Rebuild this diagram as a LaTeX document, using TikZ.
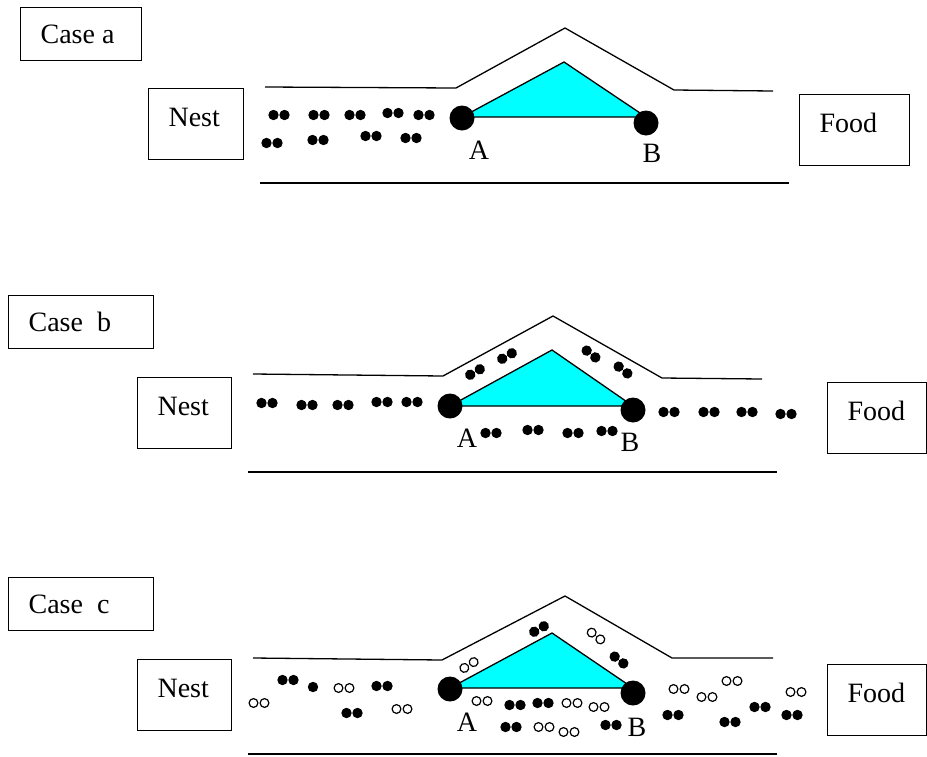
\documentclass[tikz,border=0pt]{standalone}
\usepackage{fontspec}
\setmainfont{Liberation Serif}
\definecolor{tunnelCyan}{RGB}{0,255,255}

\tikzset{
  casebox/.style={draw,line width=1.2pt,anchor=north west,inner xsep=20pt,inner ysep=17pt,text height=19pt,text depth=0pt,execute at begin node={\spaceskip=0pt\xspaceskip=0pt}},
  placebox/.style={draw,line width=1.2pt,anchor=north west,inner xsep=20pt,inner ysep=19pt,text height=19pt,text depth=14pt},
  junction/.style={circle,fill=black,minimum size=25pt,inner sep=0pt},
  letter/.style={inner sep=0pt},
  wall/.style={line width=1.3pt},
  blackPair/.pic={\fill (-5.5,0) circle (5.2pt) (5.5,0) circle (5.2pt);},
  whitePair/.pic={\draw[line width=1.2pt] (-5.5,0) circle (4.4pt) (5.5,0) circle (4.4pt);}
}

\begin{document}
\begin{tikzpicture}[x=1pt,y=-1pt,font=\fontsize{28}{34}\selectfont]
        \useasboundingbox (0,0) rectangle (927,756);

        % ================== Case a ==================
        \node[casebox,text width=81pt] (caseA) at (20,7) {Case a};
        \node[placebox,text width=55pt] (nestA) at (148,88) {Nest};
        \node[placebox,text width=70pt] (foodA) at (799,94) {Food};

        % Case a tunnel walls
        \draw[wall] (265,87) -- (456,88) -- (565,28) -- (674,90) -- (773,91);
        \draw[wall] (260,183) -- (789,183);

        % Case a short cut
        \coordinate (triA1) at (462,117);
        \coordinate (triTop1) at (564,62);
        \coordinate (triB1) at (646,117);
        \draw[wall,fill=tunnelCyan] (triA1) -- (triTop1) -- (triB1) -- cycle;
        \node[junction] (pointA1) at (462,118) {};
        \node[junction] (pointB1) at (646,123) {};
        \node[letter] (labelA1) at (479,150) {A};
        \node[letter] (labelB1) at (652,153) {B};

        % Case a ants
        \foreach \x/\y in {279/115,319/115,355/115,393/113,424/115,272/143,318/140,371/136,411/138}
          \pic at (\x,\y) {blackPair};

        % ================== Case b ==================
        \node[casebox,text width=105pt] (caseB) at (8,295) {Case~~b};
        \node[placebox,text width=54pt] (nestB) at (137,377) {Nest};
        \node[placebox,text width=59pt] (foodB) at (827,382) {Food};

        % Case b tunnel walls
        \draw[wall] (253,374) -- (443,376) -- (553,316) -- (662,378) -- (762,379);
        \draw[wall] (248,472) -- (777,472);

        % Case b short cut
        \coordinate (triA2) at (450,406);
        \coordinate (triTop2) at (552,350);
        \coordinate (triB2) at (633,406);
        \draw[wall,fill=tunnelCyan] (triA2) -- (triTop2) -- (triB2) -- cycle;
        \node[junction] (pointA2) at (450,406) {};
        \node[junction] (pointB2) at (633,410) {};
        \node[letter] (labelA2) at (467,438) {A};
        \node[letter] (labelB2) at (630,442) {B};

        % Case b ants
        \foreach \x/\y in {267/403,307/405,343/405,382/402,412/402,491/433,533/430,573/433,607/431,669/412,709/412,747/412,786/414}
          \pic at (\x,\y) {blackPair};
        \pic[rotate=30] at (475,372) {blackPair};
        \pic[rotate=30] at (507,356) {blackPair};
        \pic[rotate=-38] at (591,354) {blackPair};
        \pic[rotate=-38] at (623,370) {blackPair};

        % ================== Case c ==================
        \node[casebox,text width=105pt] (caseC) at (8,577) {Case~~c};
        \node[placebox,text width=54pt] (nestC) at (137,659) {Nest};
        \node[placebox,text width=59pt] (foodC) at (827,664) {Food};

        % Case c tunnel walls
        \draw[wall] (253,658) -- (442,660) -- (565,596) -- (672,658) -- (773,658);
        \draw[wall] (248,754) -- (777,754);

        % Case c short cut
        \coordinate (triA3) at (450,688);
        \coordinate (triTop3) at (552,633);
        \coordinate (triB3) at (633,688);
        \draw[wall,fill=tunnelCyan] (triA3) -- (triTop3) -- (triB3) -- cycle;
        \node[junction] (pointA3) at (450,689) {};
        \node[junction] (pointB3) at (633,693) {};
        \node[letter] (labelA3) at (467,722) {A};
        \node[letter] (labelB3) at (637,727) {B};

        % Case c ants
        \foreach \x/\y in {288/680,382/686,352/713,515/705,543/703,511/727,611/725,673/715,730/722,760/707,792/715}
          \pic at (\x,\y) {blackPair};
        \foreach \x/\y in {259/703,344/688,402/709,482/701,572/703,599/707,544/727,569/732,679/689,707/697,732/681,796/692}
          \pic at (\x,\y) {whitePair};
        \fill (313,687) circle (5.2pt);
        \pic[rotate=30] at (539,629) {blackPair};
        \pic[rotate=-38] at (619,660) {blackPair};
        \pic[rotate=32] at (469,665) {whitePair};
        \pic[rotate=-38] at (596,636) {whitePair};
\end{tikzpicture}
\end{document}
